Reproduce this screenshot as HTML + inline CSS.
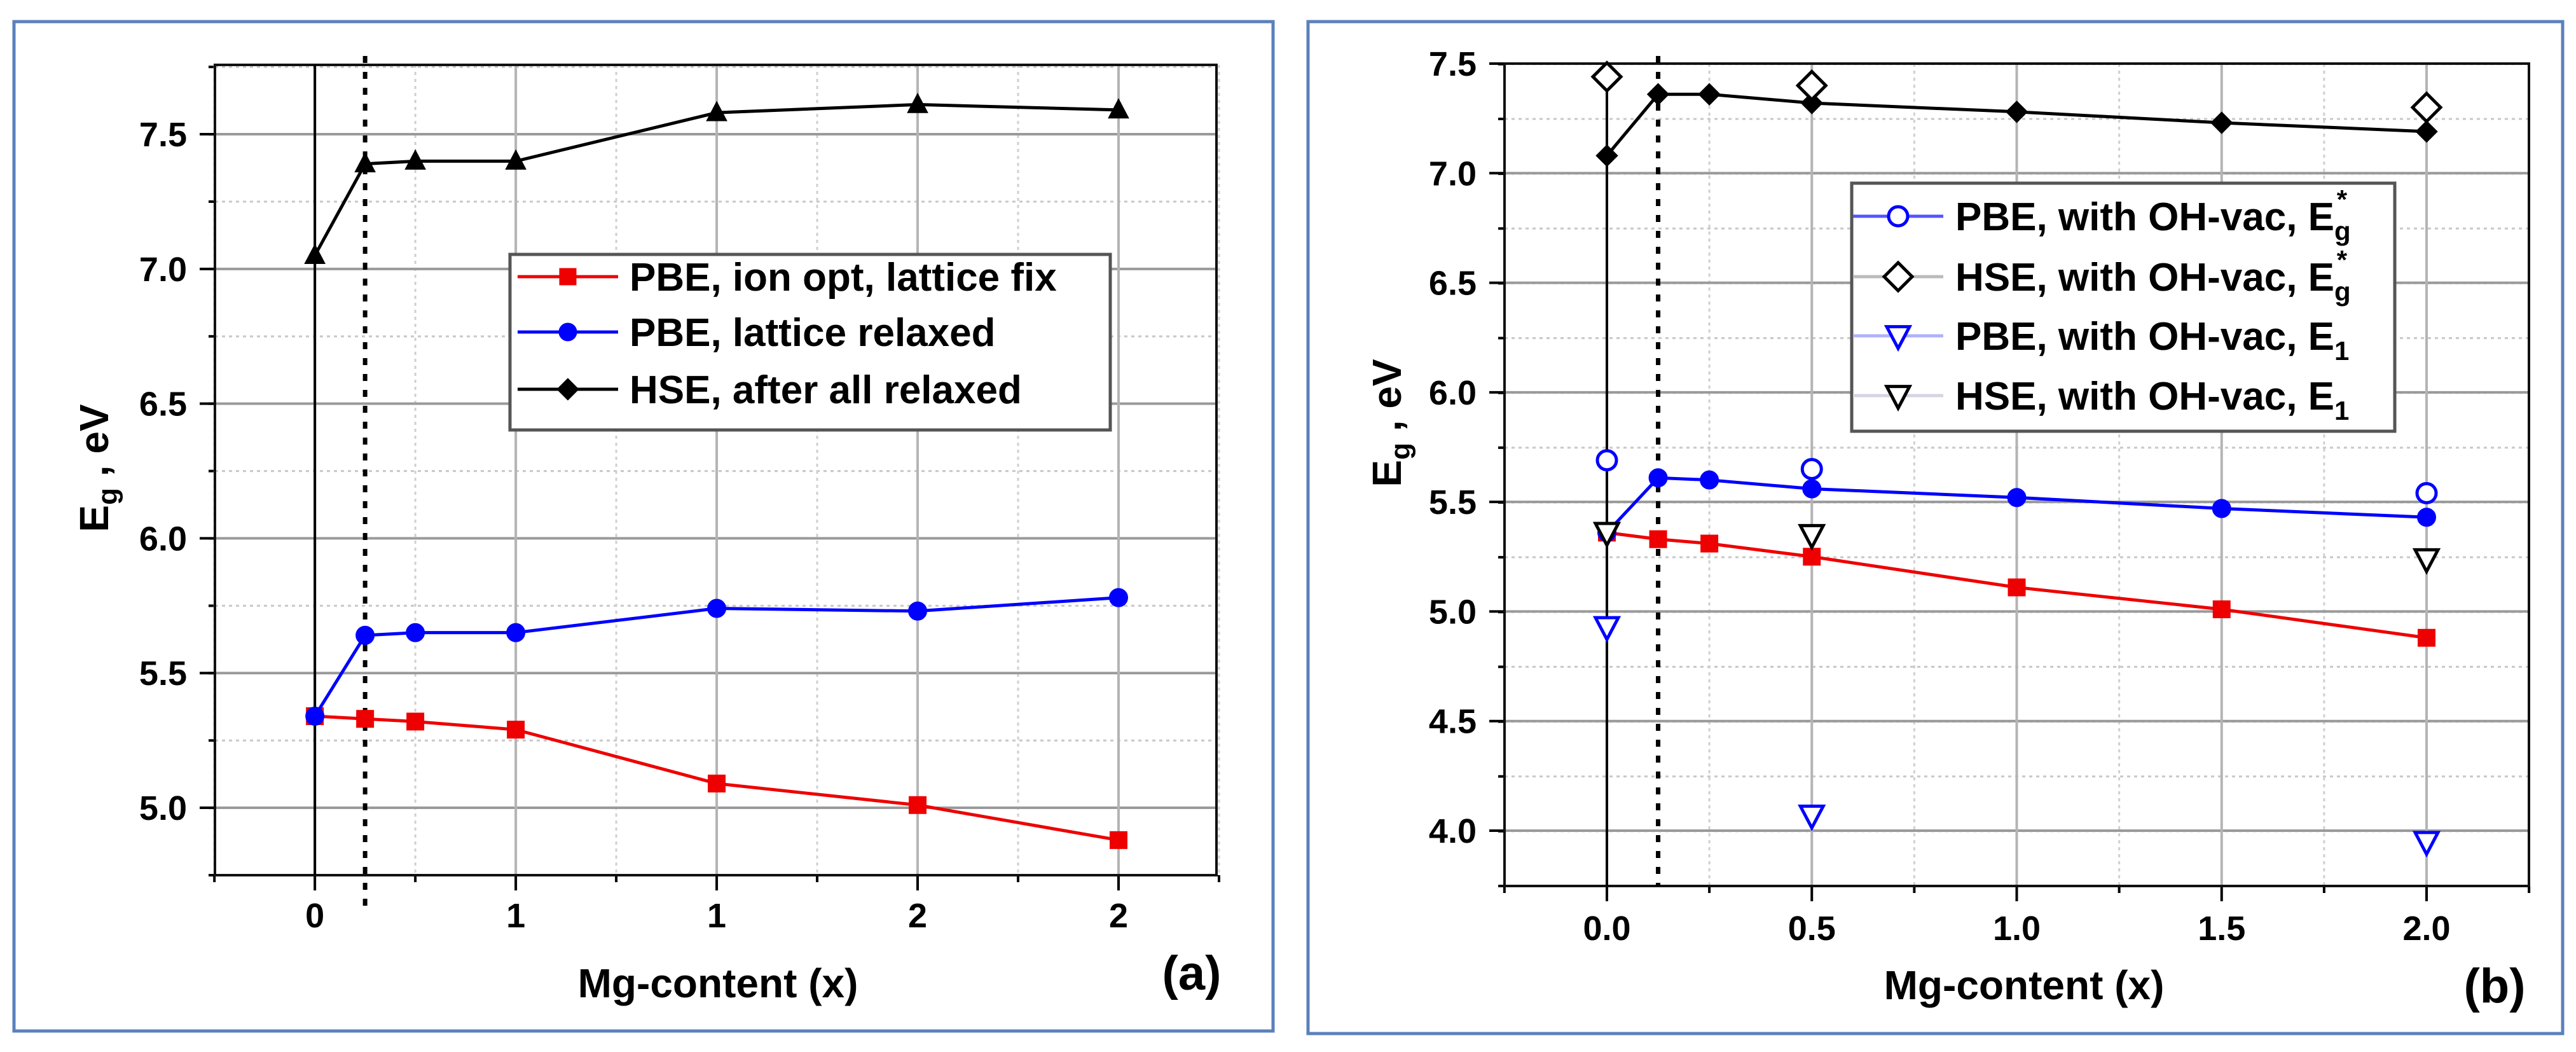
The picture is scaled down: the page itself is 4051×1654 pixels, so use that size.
<!DOCTYPE html>
<html><head><meta charset="utf-8"><style>
html,body{margin:0;padding:0;background:#fff;}
svg{display:block;font-family:"Liberation Sans",Arial,sans-serif;font-weight:bold;}
</style></head><body>
<svg id="fig" width="4051" height="1654" viewBox="0 0 4051 1654" xmlns="http://www.w3.org/2000/svg">
<rect x="0" y="0" width="4051" height="1654" fill="#fff"/>
<rect x="22" y="34" width="1980" height="1587" fill="none" stroke="#5b80bb" stroke-width="5"/>
<rect x="2057" y="34" width="1973" height="1591" fill="none" stroke="#5b80bb" stroke-width="5"/>
<g id="pa"></g>
<g id="pb"></g>
</svg>
<script>
// ---- Panel (a) data ----
const aX = [0, 0.125, 0.25, 0.5, 1, 1.5, 2];
const aPbeFix = [5.34, 5.33, 5.32, 5.29, 5.09, 5.01, 4.88];
const aPbeRelax = [5.34, 5.64, 5.65, 5.65, 5.74, 5.73, 5.78];
const aHse = [7.05, 7.39, 7.40, 7.40, 7.58, 7.61, 7.59];
const aXTicks = [0, 0.5, 1, 1.5, 2];
const aXTickLabels = ["0", "1", "1", "2", "2"];
const aYTicks = [5.0, 5.5, 6.0, 6.5, 7.0, 7.5];
const aYTickLabels = ["5.0", "5.5", "6.0", "6.5", "7.0", "7.5"];
const aLegend = ["PBE, ion opt, lattice fix", "PBE, lattice relaxed", "HSE, after all relaxed"];
// ---- Panel (b) data ----
const bX = [0, 0.125, 0.25, 0.5, 1, 1.5, 2];
const bHse = [7.08, 7.36, 7.36, 7.32, 7.28, 7.23, 7.19];
const bPbeRelax = [5.36, 5.61, 5.60, 5.56, 5.52, 5.47, 5.43];
const bPbeFix = [5.36, 5.33, 5.31, 5.25, 5.11, 5.01, 4.88];
const bVacX = [0, 0.5, 2];
const bPbeEgStar = [5.69, 5.65, 5.54];
const bHseEgStar = [7.44, 7.40, 7.30];
const bPbeE1 = [4.93, 4.07, 3.95];
const bHseE1 = [5.36, 5.35, 5.24];
const bXTicks = [0, 0.5, 1, 1.5, 2];
const bXTickLabels = ["0.0", "0.5", "1.0", "1.5", "2.0"];
const bYTicks = [4.0, 4.5, 5.0, 5.5, 6.0, 6.5, 7.0, 7.5];
const bYTickLabels = ["4.0", "4.5", "5.0", "5.5", "6.0", "6.5", "7.0", "7.5"];
const bLegend = ["PBE, with OH-vac, E", "HSE, with OH-vac, E", "PBE, with OH-vac, E", "HSE, with OH-vac, E"];

const NS = "http://www.w3.org/2000/svg";
function mk(parent, tag, attrs) {
  const e = document.createElementNS(NS, tag);
  for (const k in attrs) e.setAttribute(k, attrs[k]);
  parent.appendChild(e);
  return e;
}
function marker(g, type, cx, cy, color, filled, s) {
  let e;
  const fill = filled ? color : "#fff";
  const sw = filled ? 1 : 5;
  if (type === "square") e = mk(g, "rect", {x: cx - s/2, y: cy - s/2, width: s, height: s, fill: fill, stroke: color, "stroke-width": sw});
  else if (type === "circle") e = mk(g, "circle", {cx: cx, cy: cy, r: s/2, fill: fill, stroke: color, "stroke-width": sw});
  else if (type === "tri") e = mk(g, "polygon", {points: `${cx},${cy - s*0.55} ${cx + s/2},${cy + s*0.4} ${cx - s/2},${cy + s*0.4}`, fill: fill, stroke: color, "stroke-width": sw});
  else if (type === "dtri") e = mk(g, "polygon", {points: `${cx - s/2},${cy - s*0.4} ${cx + s/2},${cy - s*0.4} ${cx},${cy + s*0.55}`, fill: fill, stroke: color, "stroke-width": sw, "stroke-linejoin": "miter"});
  else e = mk(g, "polygon", {points: `${cx},${cy - s/2} ${cx + s/2},${cy} ${cx},${cy + s/2} ${cx - s/2},${cy}`, fill: fill, stroke: color, "stroke-width": sw});
  return e;
}

function axes(g, P) {
  const sx = v => P.x0 + (v - P.xmin) / (P.xmax - P.xmin) * (P.x1 - P.x0);
  const sy = v => P.y1 - (v - P.ymin) / (P.ymax - P.ymin) * (P.y1 - P.y0);
  // minor y grid
  for (let v = P.ymin; v <= P.ymax + 1e-9; v += 0.25) {
    const y = sy(v);
    const l = mk(g, "line", {x1: P.x0, x2: P.x1, y1: y, y2: y, stroke: "#c8c8c8", "stroke-width": 3, "stroke-dasharray": "5 6"});
    
    
    mk(g, "line", {x1: P.x0 - 10, x2: P.x0, y1: y, y2: y, stroke: "#000", "stroke-width": 4});
  }
  // minor x grid
  for (let v = -0.25; v <= 2.25 + 1e-9; v += 0.5) {
    const x = sx(v);
    const l = mk(g, "line", {x1: x, x2: x, y1: P.y0, y2: P.y1, stroke: "#d0d0d0", "stroke-width": 3, "stroke-dasharray": "5 6"});
    
    
    mk(g, "line", {x1: x, x2: x, y1: P.y1, y2: P.y1 + 11, stroke: "#000", "stroke-width": 4});
  }
  P.yTicks.forEach((v, i) => {
    const y = sy(v);
    const l = mk(g, "line", {x1: P.x0, x2: P.x1, y1: y, y2: y, stroke: "#9a9a9a", "stroke-width": 4});
    
    
    mk(g, "line", {x1: P.x0 - 24, x2: P.x0, y1: y, y2: y, stroke: "#000", "stroke-width": 4});
    const t = mk(g, "text", {x: P.x0 - 44, y: y + 19, "text-anchor": "end", "font-size": 54, fill: "#000"});
    t.textContent = P.yLabels[i];
    
    
  });
  P.xTicks.forEach((v, i) => {
    const x = sx(v);
    const l = mk(g, "line", {x1: x, x2: x, y1: P.y0, y2: P.y1, stroke: "#b4b4b4", "stroke-width": 4});
    
    
    mk(g, "line", {x1: x, x2: x, y1: P.y1, y2: P.y1 + 24, stroke: "#000", "stroke-width": 4});
    const t = mk(g, "text", {x: x, y: P.xLabelY, "text-anchor": "middle", "font-size": 54, fill: "#000"});
    t.textContent = P.xLabels[i];
    
    
  });
  const box = mk(g, "rect", {x: P.x0, y: P.y0, width: P.x1 - P.x0, height: P.y1 - P.y0, fill: "none", stroke: "#111", "stroke-width": 4});
  
  
  return {sx, sy};
}

function series(g, name, xs, ys, color, type, filled, size, lineW, drawLine) {
  const sg = mk(g, "g", {});
  
  
  if (drawLine) {
    const pts = xs.map((x, i) => `${g._sx(x)},${g._sy(ys[i])}`).join(" ");
    const pl = mk(sg, "polyline", {points: pts, fill: "none", stroke: color, "stroke-width": lineW});
    
    
  }
  xs.forEach((x, i) => {
    const m = marker(sg, type, g._sx(x), g._sy(ys[i]), color, filled, size);
    
    
  });
}

function legendItem(g, lx0, lx1, y, lineColor, type, mColor, filled, size, text, sub, sup, tx) {
  const it = mk(g, "g", {});
  
  
  mk(it, "line", {x1: lx0, x2: lx1, y1: y, y2: y, stroke: lineColor, "stroke-width": 5});
  marker(it, type, (lx0 + lx1) / 2, y, mColor, filled, size);
  const t = mk(it, "text", {x: tx, y: y + 22, "font-size": 62, fill: "#000"});
  t.textContent = text;
  if (sub) {
    const s1 = mk(t, "tspan", {"font-size": 42, dy: 16});
    s1.textContent = sub;
    if (sup) {
      const s2 = mk(t, "tspan", {"font-size": 42, dx: -22, dy: -50});
      s2.textContent = sup;
    }
  }
}

// ---------- Panel A ----------
(function () {
  const g = document.getElementById("pa");
  const P = {x0: 338, x1: 1913, y0: 102, y1: 1376, xmin: -0.2487, xmax: 2.2437, ymin: 4.7498, ymax: 7.7574,
    xTicks: aXTicks, xLabels: aXTickLabels, yTicks: aYTicks, yLabels: aYTickLabels, xLabelY: 1458};
  const s = axes(g, P);
  g._sx = s.sx; g._sy = s.sy;
  mk(g, "line", {x1: s.sx(0), x2: s.sx(0), y1: P.y0, y2: P.y1, stroke: "#000", "stroke-width": 4});
  const dl = mk(g, "line", {x1: s.sx(0.125), x2: s.sx(0.125), y1: 88, y2: 1425, stroke: "#000", "stroke-width": 7, "stroke-dasharray": "11 14"});
  
  
  series(g, "pbe-ion-opt-lattice-fix", aX, aPbeFix, "#ee0000", "square", true, 27, 5, true);
  series(g, "pbe-lattice-relaxed", aX, aPbeRelax, "#0000ff", "circle", true, 29, 5, true);
  series(g, "hse-after-all-relaxed", aX, aHse, "#000", "tri", true, 32, 5, true);
  // legend
  const lg = mk(g, "g", {});
  
  
  mk(lg, "rect", {x: 802, y: 400, width: 944, height: 276, fill: "#fff", stroke: "#555", "stroke-width": 5});
  legendItem(lg, 814, 972, 435, "#ee0000", "square", "#ee0000", true, 26, aLegend[0], null, null, 990);
  legendItem(lg, 814, 972, 522, "#0000ff", "circle", "#0000ff", true, 28, aLegend[1], null, null, 990);
  legendItem(lg, 814, 972, 612, "#000", "diamond", "#000", true, 34, aLegend[2], null, null, 990);
  // titles
  const yt = mk(g, "text", {x: 0, y: 0, "font-size": 64, fill: "#000", "text-anchor": "middle", transform: "translate(170,736) rotate(-90)"});
  
  
  yt.innerHTML = 'E<tspan font-size="44" dy="14">g</tspan><tspan dy="-14"> , eV</tspan>';
  const xt = mk(g, "text", {x: 1129, y: 1568, "font-size": 64, fill: "#000", "text-anchor": "middle"});
  xt.textContent = "Mg-content (x)";
  
  
  const pl = mk(g, "text", {x: 1874, y: 1556, "font-size": 76, fill: "#000", "text-anchor": "middle"});
  pl.textContent = "(a)";
  
  
})();

// ---------- Panel B ----------
(function () {
  const g = document.getElementById("pb");
  const P = {x0: 2366, x1: 3977, y0: 100, y1: 1393, xmin: -0.2498, xmax: 2.2498, ymin: 3.7475, ymax: 7.5,
    xTicks: bXTicks, xLabels: bXTickLabels, yTicks: bYTicks, yLabels: bYTickLabels, xLabelY: 1478};
  const s = axes(g, P);
  g._sx = s.sx; g._sy = s.sy;
  mk(g, "line", {x1: s.sx(0), x2: s.sx(0), y1: s.sy(bHseEgStar[0]), y2: P.y1, stroke: "#000", "stroke-width": 4});
  const dl = mk(g, "line", {x1: s.sx(0.125), x2: s.sx(0.125), y1: 88, y2: 1393, stroke: "#000", "stroke-width": 7, "stroke-dasharray": "11 14"});
  
  
  series(g, "pbe-ion-opt", bX, bPbeFix, "#ee0000", "square", true, 27, 5, true);
  series(g, "pbe-relaxed", bX, bPbeRelax, "#0000ff", "circle", true, 29, 5, true);
  series(g, "hse-relaxed", bX, bHse, "#000", "diamond", true, 34, 5, true);
  series(g, "pbe-oh-vac-eg-star", bVacX, bPbeEgStar, "#0000ff", "circle", false, 30, 5, false);
  series(g, "hse-oh-vac-eg-star", bVacX, bHseEgStar, "#000", "diamond", false, 44, 5, false);
  series(g, "pbe-oh-vac-e1", bVacX, bPbeE1, "#0000ff", "dtri", false, 36, 5, false);
  series(g, "hse-oh-vac-e1", bVacX, bHseE1, "#000", "dtri", false, 36, 5, false);
  const lg = mk(g, "g", {});
  
  
  mk(lg, "rect", {x: 2912, y: 288, width: 854, height: 390, fill: "#fff", stroke: "#555", "stroke-width": 5});
  legendItem(lg, 2914, 3056, 340, "#5555ff", "circle", "#0000ff", false, 30, bLegend[0], "g", "*", 3075);
  legendItem(lg, 2914, 3056, 435, "#bbbbbb", "diamond", "#000", false, 44, bLegend[1], "g", "*", 3075);
  legendItem(lg, 2914, 3056, 528, "#b0b0ff", "dtri", "#0000ff", false, 36, bLegend[2], "1", null, 3075);
  legendItem(lg, 2914, 3056, 622, "#d4d4e4", "dtri", "#000", false, 36, bLegend[3], "1", null, 3075);
  const yt = mk(g, "text", {x: 0, y: 0, "font-size": 64, fill: "#000", "text-anchor": "middle", transform: "translate(2203,665) rotate(-90)"});
  
  
  yt.innerHTML = 'E<tspan font-size="44" dy="14">g</tspan><tspan dy="-14"> , eV</tspan>';
  const xt = mk(g, "text", {x: 3183, y: 1571, "font-size": 64, fill: "#000", "text-anchor": "middle"});
  xt.textContent = "Mg-content (x)";
  
  
  const pl = mk(g, "text", {x: 3923, y: 1576, "font-size": 76, fill: "#000", "text-anchor": "middle"});
  pl.textContent = "(b)";
  
  
})();
</script>
</body></html>
